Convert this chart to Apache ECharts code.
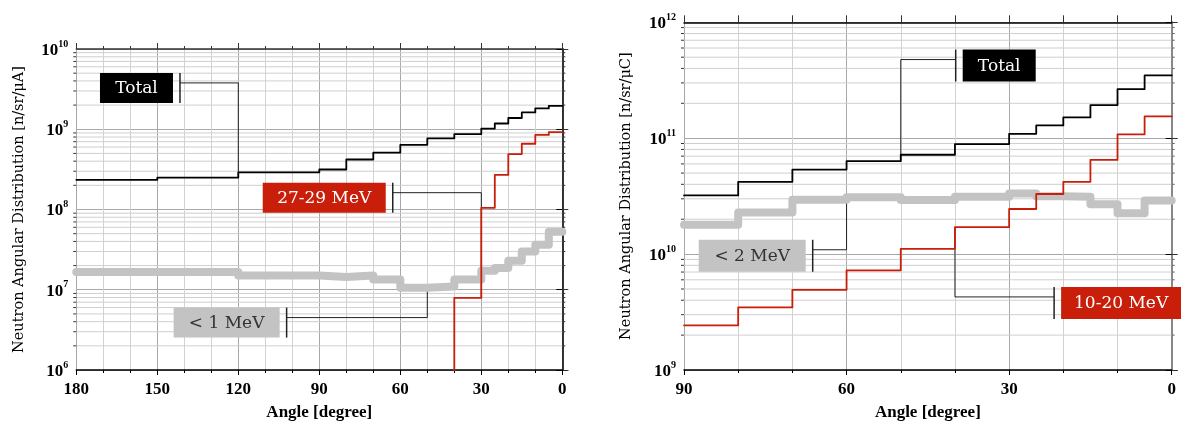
<!DOCTYPE html>
<html><head><meta charset="utf-8">
<script src="https://cdn.jsdelivr.net/npm/echarts@6/dist/echarts.min.js"></script>
<style>html,body{margin:0;padding:0;background:#fff}#c{width:1181px;height:426px}</style>
</head><body><div id="c"></div>
<script>
// ---------- data (left: per µA, right: per µC) ----------
const edgesLeft = [180,150,120,90,80,70,60,50,40,30,25,20,15,10,5,0];
const totalLeft = [2.34e8,2.5e8,2.9e8,3.15e8,4.2e8,5.1e8,6.4e8,7.7e8,8.7e8,1.02e9,1.18e9,1.38e9,1.62e9,1.82e9,1.95e9];
const lowLeft   = [1.67e7,1.67e7,1.5e7,1.44e7,1.5e7,1.34e7,1.06e7,1.1e7,1.34e7,1.73e7,1.86e7,2.29e7,3.0e7,3.64e7,5.3e7];
const highLeft  = [null,null,null,null,null,null,null,1e5,7.9e6,1.05e8,2.7e8,4.9e8,6.6e8,8.5e8,9.2e8];

const edgesRight = [90,80,70,60,50,40,30,25,20,15,10,5,0];
const totalRight = [3.21e10,4.2e10,5.36e10,6.35e10,7.2e10,8.9e10,1.09e11,1.29e11,1.51e11,1.93e11,2.65e11,3.48e11];
const lowRight   = [1.79e10,2.29e10,2.94e10,3.1e10,2.93e10,3.13e10,3.34e10,3.15e10,3.12e10,2.69e10,2.25e10,2.9e10];
const highRight  = [2.43e9,3.47e9,4.92e9,7.24e9,1.11e10,1.71e10,2.45e10,3.3e10,4.2e10,6.5e10,1.08e11,1.54e11];

const xTicksLeft = [180,150,120,90,60,30,0];
const xTicksRight = [90,60,30,0];

// ---------- callouts ----------
const RED = '#c81e0a', GRAY = '#c3c3c3';
const calloutsLeft = [
  {label:'Total', series:'total', angle:120, level:3.78e9, barAngle:141.6, w:73, h:30, fill:'#000', color:'#fff'},
  {label:'27-29 MeV', series:'high', angle:30, level:1.62e8, barAngle:62.8, w:123, h:30, fill:RED, color:'#fff'},
  {label:'< 1 MeV', series:'low', angle:50, level:4.5e6, barAngle:102.1, w:106, h:30, fill:GRAY, color:'#333'}
];
const calloutsRight = [
  {label:'Total', series:'total', angle:50, level:4.77e11, barAngle:39.86, w:73, h:32, fill:'#000', color:'#fff'},
  {label:'< 2 MeV', series:'low', angle:60, level:1.09e10, barAngle:66.25, w:107, h:32, fill:GRAY, color:'#333'},
  {label:'10-20 MeV', series:'high', angle:40, level:4.27e9, barAngle:21.7, w:120, h:32, fill:RED, color:'#fff'}
];

function steps(edges, vals){
  const pts = [];
  vals.forEach((v,i)=>{ if(v==null) return; pts.push([edges[i],v],[edges[i+1],v]); });
  return pts;
}
function adjacent(edges, vals, a){
  const out = [];
  for(let i=0;i<vals.length;i++){ if((edges[i]===a||edges[i+1]===a) && vals[i]!=null) out.push(vals[i]); }
  return out;
}
function minorValues(lo, hi){
  const out=[];
  for(let n=lo;n<hi;n++) for(let k=2;k<=9;k++) out.push([0,k*Math.pow(10,n)]);
  return out;
}

const SERIF = '"DejaVu Serif", serif';
const TICKF = '"Liberation Serif", "Times New Roman", serif';

function minorGridSeries(xi, yi, lo, hi, tickColor){
  return {type:'custom', xAxisIndex:xi, yAxisIndex:yi, z:1, silent:true, clip:false,
    data: minorValues(lo,hi),
    renderItem(params, api){
      const cs = params.coordSys;
      const y = api.coord([0, api.value(1)])[1];
      return {type:'group', children:[
        {type:'line', shape:{x1:cs.x, y1:y, x2:cs.x+cs.width, y2:y}, style:{stroke:'#cfcfcf', lineWidth:1}},
        {type:'line', shape:{x1:cs.x-3, y1:y, x2:cs.x, y2:y}, style:{stroke:'#333', lineWidth:1}},
        {type:'line', shape:{x1:cs.x+cs.width, y1:y, x2:cs.x+cs.width+3, y2:y}, style:{stroke:tickColor, lineWidth:1}}
      ]};
    }};
}

function calloutSeries(xi, yi, list, edges, map){
  return {type:'custom', xAxisIndex:xi, yAxisIndex:yi, z:3, silent:true, clip:false,
    data: list.map(c=>[c.angle, c.level]),
    renderItem(params, api){
      const c = list[params.dataIndex];
      const adj = adjacent(edges, map[c.series], c.angle);
      const mx = Math.max.apply(null, adj), mn = Math.min.apply(null, adj);
      const anchorV = c.level > mx ? mn : mx;
      const pA = api.coord([c.angle, anchorV]);
      const pE = api.coord([c.angle, c.level]);
      const pB = api.coord([c.barAngle, c.level]);
      const top = pE[1] - 10;
      const left = pB[0] < pE[0];
      const bx = left ? pB[0] - 7 - c.w : pB[0] + 7;
      return {type:'group', children:[
        {type:'polyline', shape:{points:[pA,pE,pB]}, style:{stroke:'#222', lineWidth:1, fill:'none'}},
        {type:'line', shape:{x1:pB[0], y1:top, x2:pB[0], y2:top+c.h}, style:{stroke:'#222', lineWidth:1.5}},
        {type:'rect', shape:{x:bx, y:top, width:c.w, height:c.h}, style:{fill:c.fill}},
        {type:'text', style:{text:c.label, x:bx+c.w/2, y:top+c.h/2+1, align:'center', verticalAlign:'middle',
          fill:c.color, fontSize:17, fontFamily:SERIF}}
      ]};
    }};
}

function xAxes(gi, max, ticks, topColor, rightTop){
  const lbl = v => ticks.indexOf(v) >= 0 ? String(v) : '';
  return [
    {type:'value', gridIndex:gi, position:'bottom', min:0, max:max, interval:30, inverse:true,
     axisLine:{show:true, lineStyle:{color:'#000', width:1.5}},
     axisTick:{show:true, inside:false, length:5, lineStyle:{color:'#000'}},
     minorTick:{show:true, splitNumber:3, length:3, lineStyle:{color:'#000'}},
     axisLabel:{formatter:lbl, margin:11, color:'#000', fontFamily:TICKF, fontWeight:'bold', fontSize:17},
     splitLine:{show:true, lineStyle:{color:'#a8a8a8', width:1}},
     minorSplitLine:{show:true, lineStyle:{color:'#d2d2d2', width:1}},
     name:'Angle [degree]', nameLocation:'middle', nameGap:34,
     nameTextStyle:{fontFamily:TICKF, fontWeight:'bold', fontSize:17, color:'#000'}},
    {type:'value', gridIndex:gi, position:'top', min:0, max:max, interval:30, inverse:true,
     axisLine:{show:true, lineStyle:{color:topColor, width:1.5}},
     axisTick:{show:true, inside:false, length:rightTop?7:6, lineStyle:{color:'#333'}},
     minorTick:{show:true, splitNumber:3, length:rightTop?7:3, lineStyle:{color:'#333'}},
     axisLabel:{show:false}, splitLine:{show:false}}
  ];
}
function yAxes(gi, min, max, unit, rightColor){
  return [
    {type:'log', logBase:10, gridIndex:gi, position:'left', min:min, max:max,
     axisLine:{show:true, lineStyle:{color:'#000', width:1.5}},
     axisTick:{show:true, inside:false, length:6, lineStyle:{color:'#000'}},
     axisLabel:{margin:8, formatter:v=>'{b|10}{s|'+Math.round(Math.log10(v))+'}',
       rich:{b:{fontFamily:TICKF, fontWeight:'bold', fontSize:17, color:'#000', lineHeight:20, verticalAlign:'bottom'},
             s:{fontFamily:TICKF, fontWeight:'bold', fontSize:10, color:'#000', lineHeight:12, verticalAlign:'top'}}},
     splitLine:{show:true, lineStyle:{color:'#a8a8a8', width:1}},
     name:'Neutron Angular Distribution [n/sr/'+unit+']', nameLocation:'middle', nameGap:50, nameRotate:90,
     nameTextStyle:{fontFamily:SERIF, fontSize:14.5, color:'#000'}},
    {type:'log', logBase:10, gridIndex:gi, position:'right', min:min, max:max,
     axisLine:{show:true, lineStyle:{color:rightColor, width:rightColor==='#333'?1.5:2}},
     axisTick:{show:true, inside:false, length:6, lineStyle:{color:'#333'}},
     axisLabel:{show:false}, splitLine:{show:false}}
  ];
}

function lineSeries(xi, yi, data, color, width, z){
  return {type:'line', xAxisIndex:xi, yAxisIndex:yi, data:data, showSymbol:false, symbol:'none', z:z,
    clip:true, silent:true, animation:false,
    lineStyle:{color:color, width:width, cap:'round', join:'round'}};
}

const mapLeft = {total:totalLeft, low:lowLeft, high:highLeft};
const mapRight = {total:totalRight, low:lowRight, high:highRight};

const option = {
  animation:false,
  backgroundColor:'#fff',
  grid:[
    {left:76.3, right:1181-562.3, top:49, bottom:426-373.3},
    {left:684, right:1181-1171.7, top:22.3, bottom:426-373.3}
  ],
  xAxis:[].concat(xAxes(0,180,xTicksLeft,'#333',false), xAxes(1,90,xTicksRight,'#000',true)),
  yAxis:[].concat(yAxes(0,1e6,1e10,'μA','#333'), yAxes(1,1e9,1e12,'μC','#888')),
  series:[
    minorGridSeries(0,0,6,10,'#333'),
    minorGridSeries(2,2,9,12,'#666'),
    calloutSeries(0,0,calloutsLeft,edgesLeft,mapLeft),
    calloutSeries(2,2,calloutsRight,edgesRight,mapRight),
    lineSeries(0,0,steps(edgesLeft,lowLeft),GRAY,8,4),
    lineSeries(0,0,steps(edgesLeft,highLeft),RED,1.8,5),
    lineSeries(0,0,steps(edgesLeft,totalLeft),'#000',1.8,6),
    lineSeries(2,2,steps(edgesRight,lowRight),GRAY,8,4),
    lineSeries(2,2,steps(edgesRight,highRight),RED,1.8,5),
    lineSeries(2,2,steps(edgesRight,totalRight),'#000',1.8,6)
  ]
};
const chart = echarts.init(document.getElementById('c'), null, {renderer:'canvas'});
chart.setOption(option);
</script></body></html>
